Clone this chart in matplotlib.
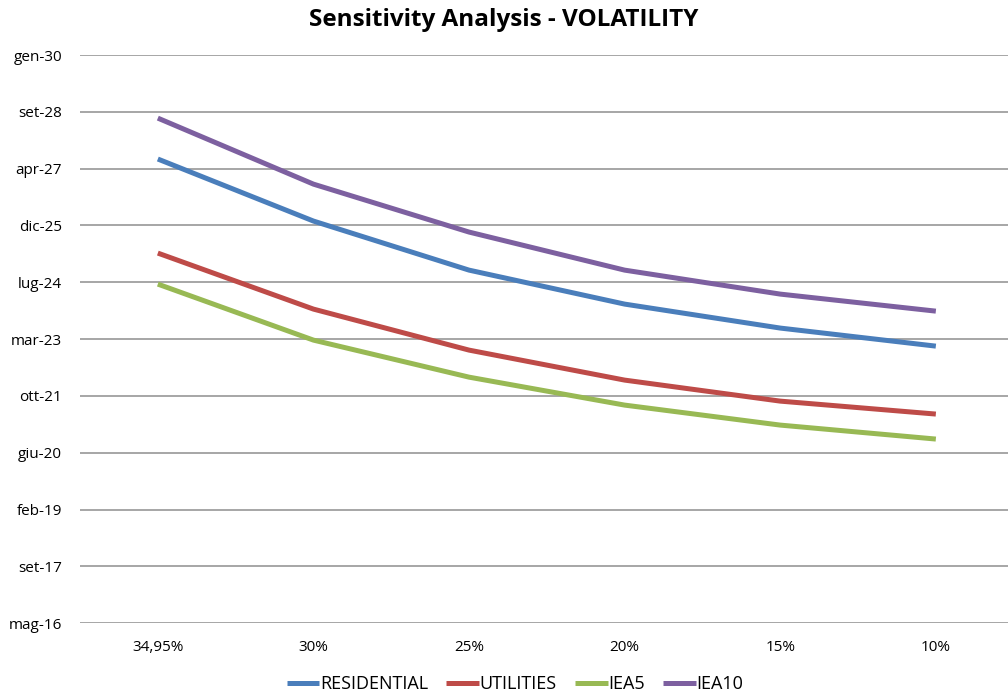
import numpy as np
import matplotlib.pyplot as plt
import matplotlib.dates as mdates
from matplotlib.ticker import FuncFormatter, FixedLocator

plt.rcParams['font.family'] = ['Open Sans', 'DejaVu Sans']

# categorie (volatilità)
categories = ['34,95%', '30%', '25%', '20%', '15%', '10%']

# date stimate dal grafico
residential = ['2027-07-16', '2026-01-16', '2024-11-10', '2024-01-16', '2023-06-19', '2023-01-11']
utilities = ['2025-04-09', '2023-12-03', '2022-12-07', '2022-03-18', '2021-09-14', '2021-05-23']
iea5 = ['2024-07-10', '2023-03-05', '2022-04-13', '2021-08-10', '2021-02-15', '2020-10-15']
iea10 = ['2028-07-10', '2026-12-07', '2025-10-11', '2024-11-10', '2024-04-13', '2023-11-15']

series = [('RESIDENTIAL', residential, '#4A7EBB'),
          ('UTILITIES', utilities, '#BE4B48'),
          ('IEA5', iea5, '#98B954'),
          ('IEA10', iea10, '#7D60A0')]

mesi = ['gen', 'feb', 'mar', 'apr', 'mag', 'giu', 'lug', 'ago', 'set', 'ott', 'nov', 'dic']

fig = plt.figure(figsize=(10.08, 6.97), dpi=100)
ax = fig.add_axes([0.0794, 0.106, 0.9262, 0.815])

x = np.arange(len(categories))
for name, vals, col in series:
    y = mdates.date2num(np.array(vals, dtype='datetime64[D]'))
    ax.plot(x, y, color=col, lw=3.6, label=name, solid_capstyle='butt')

# asse date con passo di 500 giorni (come Excel)
ticks = np.arange(np.datetime64('2016-05-09'), np.datetime64('2030-02-01'), 500)
tnum = mdates.date2num(ticks)
ax.yaxis.set_major_locator(FixedLocator(tnum))
ax.set_ylim(tnum[0], tnum[-1])

def fmt(v, pos):
    d = mdates.num2date(v)
    return '%s-%02d' % (mesi[d.month - 1], d.year % 100)
ax.yaxis.set_major_formatter(FuncFormatter(fmt))

ax.set_xlim(-0.5, len(categories) - 0.5)
ax.set_xticks(x)
ax.set_xticklabels(categories)

ax.grid(axis='y', color='#A6A6A6', lw=1.4)
ax.set_axisbelow(True)
for s in ax.spines.values():
    s.set_visible(False)
ax.tick_params(axis='both', length=0, labelsize=11, colors='black')
ax.tick_params(axis='y', pad=13)
ax.tick_params(axis='x', pad=12)

fig.suptitle('Sensitivity Analysis - VOLATILITY', fontsize=17.5, fontweight='bold', y=0.988)

ax.legend(loc='center', bbox_to_anchor=(0.466, -0.107), ncol=4, frameon=False,
          fontsize=13, handlelength=1.8, handletextpad=0.05, columnspacing=1.0)

fig.savefig('out.png', dpi=100)
